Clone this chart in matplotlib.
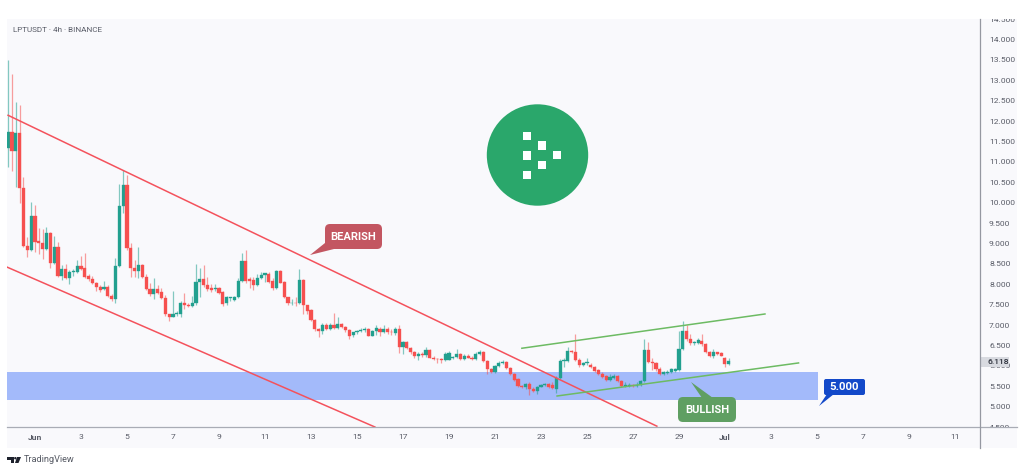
"""LPTUSDT 4h candles with falling channel, rising channel and demand zone."""

import matplotlib
matplotlib.use("Agg")
import matplotlib.pyplot as plt
import numpy as np
from matplotlib.patches import Circle, FancyBboxPatch, Polygon, Rectangle
from matplotlib.transforms import Bbox

plt.rcParams["font.family"] = ["Roboto", "DejaVu Sans"]

# candles, 6 per day, first one sits 7 bars ahead of 1 June
opens = [
    11.34, 11.73, 11.26, 11.70, 10.35, 8.93, 8.84, 9.67, 9.05, 9.00,
    8.86, 9.25, 8.52, 8.91, 8.20, 8.37, 8.15, 8.30, 8.30, 8.45,
    8.39, 8.20, 8.12, 8.03, 7.93, 7.88, 7.93, 7.72, 7.63, 8.44,
    9.91, 10.43, 8.88, 8.39, 8.33, 8.47, 8.18, 7.88, 7.76, 7.88,
    7.80, 7.66, 7.27, 7.19, 7.27, 7.27, 7.53, 7.50, 7.47, 7.53,
    8.05, 8.12, 7.98, 7.90, 7.88, 7.90, 7.80, 7.53, 7.65, 7.62,
    7.68, 8.08, 8.57, 8.12, 8.10, 7.98, 8.15, 8.22, 8.25, 8.07,
    7.90, 8.32, 8.05, 7.68, 7.53, 7.55, 7.53, 8.10, 7.49, 7.36,
    7.12, 6.90, 6.85, 7.00, 6.90, 7.00, 6.93, 7.03, 6.96, 6.87,
    6.75, 6.82, 6.85, 6.87, 6.90, 6.74, 6.86, 6.91, 6.84, 6.91,
    6.84, 6.81, 6.90, 6.45, 6.59, 6.43, 6.34, 6.24, 6.30, 6.26,
    6.39, 6.20, 6.17, 6.16, 6.14, 6.15, 6.18, 6.22, 6.30, 6.16,
    6.24, 6.20, 6.16, 6.29, 6.33, 6.12, 5.91, 5.85, 5.99, 6.07,
    6.10, 5.95, 5.80, 5.67, 5.50, 5.47, 5.55, 5.44, 5.39, 5.49,
    5.53, 5.55, 5.53, 5.44, 5.69, 6.12, 6.12, 6.37, 6.34, 6.14,
    6.02, 6.07, 6.02, 5.96, 5.89, 5.81, 5.75, 5.65, 5.70, 5.75,
    5.62, 5.50, 5.50, 5.52, 5.51, 5.53, 5.63, 6.38, 6.10, 6.06,
    5.92, 5.80, 5.83, 5.85, 5.88, 5.90, 6.42, 6.86, 6.65, 6.55,
    6.55, 6.62, 6.53, 6.34, 6.24, 6.33, 6.32, 6.18, 6.04,
]
closes = [
    11.73, 11.26, 11.70, 10.35, 8.93, 8.83, 9.67, 9.03, 9.00, 8.86,
    9.25, 8.52, 8.91, 8.20, 8.37, 8.15, 8.30, 8.33, 8.45, 8.37,
    8.17, 8.12, 8.03, 7.93, 7.86, 7.93, 7.70, 7.63, 8.44, 9.91,
    10.43, 8.88, 8.39, 8.33, 8.47, 8.18, 7.88, 7.76, 7.88, 7.78,
    7.66, 7.27, 7.19, 7.27, 7.30, 7.53, 7.50, 7.46, 7.53, 8.05,
    8.12, 7.98, 7.88, 7.86, 7.90, 7.78, 7.51, 7.68, 7.68, 7.68,
    8.08, 8.57, 8.08, 8.08, 7.98, 8.15, 8.22, 8.27, 8.05, 7.90,
    8.32, 8.03, 7.68, 7.53, 7.55, 7.53, 8.10, 7.49, 7.34, 7.12,
    6.90, 6.85, 7.00, 6.90, 7.00, 6.93, 7.03, 6.96, 6.87, 6.72,
    6.82, 6.85, 6.87, 6.90, 6.74, 6.86, 6.92, 6.84, 6.91, 6.84,
    6.83, 6.90, 6.45, 6.59, 6.43, 6.33, 6.24, 6.30, 6.26, 6.39,
    6.20, 6.17, 6.16, 6.14, 6.28, 6.32, 6.21, 6.30, 6.16, 6.24,
    6.20, 6.17, 6.29, 6.33, 6.12, 5.91, 5.85, 5.99, 6.07, 6.10,
    5.94, 5.80, 5.65, 5.50, 5.47, 5.55, 5.43, 5.39, 5.49, 5.53,
    5.55, 5.48, 5.45, 5.69, 6.12, 6.14, 6.37, 6.34, 6.14, 6.02,
    6.07, 6.09, 5.98, 5.87, 5.80, 5.73, 5.65, 5.72, 5.75, 5.63,
    5.50, 5.52, 5.52, 5.51, 5.53, 5.63, 6.38, 6.10, 6.06, 5.92,
    5.80, 5.85, 5.85, 5.91, 5.91, 6.42, 6.86, 6.65, 6.55, 6.58,
    6.63, 6.53, 6.33, 6.24, 6.34, 6.30, 6.25, 6.04, 6.12,
]
highs = [
    13.49, 13.15, 12.46, 12.39, 10.62, 9.15, 10.01, 9.94, 9.37, 9.35,
    9.40, 9.28, 9.18, 9.03, 8.47, 8.49, 8.35, 8.38, 8.59, 8.69,
    8.76, 8.26, 8.20, 8.06, 7.98, 8.07, 7.98, 7.76, 8.64, 10.45,
    10.80, 10.67, 9.00, 8.59, 8.91, 8.50, 8.25, 8.03, 8.15, 7.98,
    7.90, 7.73, 7.28, 7.83, 7.35, 7.60, 7.78, 7.53, 7.71, 8.49,
    8.39, 8.47, 8.18, 8.00, 8.00, 7.94, 7.84, 7.71, 7.69, 7.72,
    8.14, 8.76, 8.83, 8.17, 8.18, 8.26, 8.30, 8.28, 8.30, 8.14,
    8.35, 8.35, 8.07, 7.69, 7.63, 7.69, 8.37, 8.12, 7.50, 7.38,
    7.14, 6.92, 7.04, 7.04, 7.04, 7.29, 7.19, 7.05, 6.97, 6.89,
    6.84, 6.88, 6.93, 6.94, 6.92, 6.88, 7.00, 6.96, 7.00, 6.94,
    6.90, 6.94, 7.00, 6.61, 6.60, 6.47, 6.37, 6.34, 6.34, 6.47,
    6.42, 6.24, 6.20, 6.19, 6.34, 6.36, 6.25, 6.40, 6.32, 6.28,
    6.28, 6.24, 6.33, 6.38, 6.37, 6.14, 5.95, 6.03, 6.11, 6.13,
    6.12, 5.97, 5.82, 5.69, 5.53, 5.58, 5.60, 5.47, 5.51, 5.56,
    5.58, 5.58, 5.60, 5.75, 6.16, 6.18, 6.45, 6.39, 6.79, 6.18,
    6.10, 6.18, 6.08, 5.99, 5.92, 5.84, 5.78, 5.80, 5.81, 5.78,
    5.65, 5.61, 5.59, 5.56, 5.61, 5.66, 6.65, 6.59, 6.18, 6.10,
    5.96, 5.88, 5.89, 5.94, 5.95, 6.86, 7.10, 7.00, 6.78, 6.62,
    6.68, 6.78, 6.56, 6.36, 6.40, 6.35, 6.34, 6.22, 6.20,
]
lows = [
    10.87, 10.77, 10.38, 9.99, 8.90, 8.66, 8.81, 8.80, 8.75, 8.61,
    8.83, 8.39, 8.50, 8.17, 8.10, 8.12, 8.00, 8.20, 8.28, 8.34,
    8.14, 8.08, 8.00, 7.83, 7.82, 7.85, 7.68, 7.59, 7.53, 8.42,
    9.74, 8.83, 8.17, 8.17, 8.14, 8.14, 7.85, 7.71, 7.63, 7.75,
    7.63, 7.23, 7.10, 7.19, 7.22, 7.20, 7.40, 7.43, 7.45, 7.49,
    7.68, 7.92, 7.84, 7.81, 7.84, 7.76, 7.46, 7.50, 7.60, 7.58,
    7.65, 8.05, 8.03, 7.90, 7.86, 7.95, 8.12, 8.05, 8.03, 7.87,
    7.88, 8.02, 7.65, 7.49, 7.50, 7.47, 7.51, 7.27, 7.28, 7.09,
    6.86, 6.70, 6.78, 6.87, 6.87, 6.89, 6.89, 6.92, 6.82, 6.65,
    6.71, 6.78, 6.82, 6.84, 6.72, 6.72, 6.75, 6.74, 6.80, 6.78,
    6.75, 6.75, 6.32, 6.30, 6.40, 6.30, 6.20, 6.14, 6.22, 6.22,
    6.18, 6.14, 6.06, 6.06, 6.12, 6.13, 6.16, 6.18, 6.14, 6.14,
    6.18, 6.13, 6.14, 6.26, 6.10, 5.81, 5.83, 5.83, 5.97, 6.05,
    5.92, 5.77, 5.62, 5.47, 5.45, 5.44, 5.28, 5.37, 5.31, 5.47,
    5.51, 5.46, 5.43, 5.34, 5.67, 5.98, 6.10, 6.32, 6.12, 5.98,
    6.00, 6.02, 5.95, 5.85, 5.78, 5.71, 5.63, 5.62, 5.68, 5.61,
    5.48, 5.47, 5.47, 5.48, 5.48, 5.50, 5.61, 6.06, 5.90, 5.88,
    5.77, 5.78, 5.81, 5.83, 5.86, 5.88, 6.38, 6.62, 6.51, 6.52,
    6.53, 6.48, 6.31, 6.21, 6.20, 6.27, 6.23, 5.98, 6.01,
]

# x tick days counted from 1 June
date_ticks = [0, 2, 4, 6, 8, 10, 12, 14, 16, 18, 20, 22, 24, 26, 28, 30, 32, 34, 36, 38, 40]
date_labels = ["Jun", "3", "5", "7", "9", "11", "13", "15", "17", "19", "21", "23",
               "25", "27", "29", "Jul", "3", "5", "7", "9", "11"]
price_ticks = [4.5, 5, 5.5, 6, 6.5, 7, 7.5, 8, 8.5, 9, 9.5, 10, 10.5, 11, 11.5,
               12, 12.5, 13, 13.5, 14, 14.5]

# drawings: (day, price) ends
bear_upper = ([-1.17, 27.04], [12.14, 4.52])
bear_lower = ([-1.22, 14.78], [8.42, 4.5])
bull_upper = ([21.17, 31.74], [6.43, 7.27])
bull_lower = ([22.7, 33.2], [5.26, 6.07])
zone_days = (-1.22, 34.04)
zone_prices = (5.16, 5.84)
last_price = 6.118

GREEN = "#22A08F"
RED = "#F6504F"
TEXT = "#5A5D68"
PANEL = "#F9F9FC"

W, H = 1024, 472
fig = plt.figure(figsize=(W / 100, H / 100), dpi=100, facecolor="white")


def px_rect(left, top, right, bottom):
    """Figure fractions for a box given in image pixels."""
    return [left / W, 1 - bottom / H, (right - left) / W, (bottom - top) / H]


# chart panel behind everything
l, b, w, h = px_rect(7, 19, 1017, 448)
fig.add_artist(Rectangle((l, b), w, h, transform=fig.transFigure, color=PANEL, lw=0, zorder=-1))

ax = fig.add_axes(px_rect(7, 19, 980, 427), facecolor="none")
ax.set_xlim(-1.217, 41.09)
ax.set_ylim(4.5, 14.5)
for side in ["top", "left", "bottom", "right"]:
    ax.spines[side].set_visible(False)

ax.yaxis.tick_right()
ax.set_yticks(price_ticks)
ax.set_yticklabels([f"{p:.3f}" for p in price_ticks])
ax.set_xticks(date_ticks)
ax.set_xticklabels(date_labels)
ax.tick_params(axis="y", length=0, pad=6.5, labelsize=6.1, labelcolor=TEXT)
ax.tick_params(axis="x", length=0, pad=5, labelsize=6.1, labelcolor=TEXT)
for label in ax.get_xticklabels():
    if label.get_text() in ("Jun", "Jul"):
        label.set_fontweight("bold")

# end labels get cut by the scale edges like in TradingView
scale_box = Bbox([[981, H - 427], [1017, H - 19]])
for label in ax.get_yticklabels():
    label.set_clip_box(scale_box)
    label.set_clip_on(True)

ax.add_patch(Rectangle((zone_days[0], zone_prices[0]), zone_days[1] - zone_days[0],
                       zone_prices[1] - zone_prices[0], color="#A3BAFA", lw=0, zorder=1))

# candles
o = np.array(opens)
c = np.array(closes)
days = (np.arange(len(o)) - 7) / 6
colors = [GREEN if close >= op else RED for op, close in zip(o, c)]
ax.vlines(days, lows, highs, colors=colors, linewidth=0.9, alpha=0.55, zorder=2)
ax.bar(days, np.abs(c - o), bottom=np.minimum(o, c), width=0.135, color=colors,
       edgecolor=colors, linewidth=0.25, zorder=3)

for xs, ys in (bear_upper, bear_lower):
    ax.plot(xs, ys, color="#F4525C", linewidth=1.1, zorder=4)
for xs, ys in (bull_upper, bull_lower):
    ax.plot(xs, ys, color="#6DBB63", linewidth=1.1, zorder=4)

# overlay in image pixels for logo, callouts and footer
pix = fig.add_axes([0, 0, 1, 1], facecolor="none")
pix.set_xlim(0, W)
pix.set_ylim(H, 0)
pix.axis("off")

# pane borders, the scale line runs on through the time axis
pix.plot([7, 1017], [427, 427], color="#A9ACB5", linewidth=0.9)
pix.plot([980, 980], [19, 448], color="#9598A1", linewidth=0.9)

pix.text(13, 30, "LPTUSDT · 4h · BINANCE", fontsize=5.9, color=TEXT, va="center")

# current price tag
pix.add_patch(Rectangle((980.5, 357), 28.5, 10, color="#D8DAE0", lw=0))
pix.text(987, 362, f"{last_price:.3f}", fontsize=6.1, color="#2A2E39", va="center",
         fontweight="medium")

# coin logo
pix.add_patch(Circle((537.5, 155), 50.7, color="#2AA76B", lw=0))
for sx, sy in [(526.7, 135.7), (541.7, 145.3), (526.7, 155.3),
               (557, 155), (541.7, 165), (526.7, 174.7)]:
    pix.add_patch(Rectangle((sx - 4.2, sy - 4.2), 8.4, 8.4, color="white", lw=0))


def callout(left, top, right, bottom, tail, label, color, size, radius=5):
    pix.add_patch(Polygon(tail, closed=True, color=color, lw=0))
    pix.add_patch(FancyBboxPatch((left + radius, top + radius), right - left - 2 * radius,
                                 bottom - top - 2 * radius, boxstyle=f"round,pad={radius}",
                                 color=color, lw=0))
    pix.text((left + right) / 2, (top + bottom) / 2 + 0.3, label, color="white", fontsize=size,
             fontweight="bold", ha="center", va="center")


callout(325, 224, 382, 249, [(310, 255), (325, 243), (334, 249)], "BEARISH", "#C35661", 8)
callout(678, 397, 736, 422, [(691, 382), (702, 398), (713, 398)], "BULLISH", "#5F9F62", 8)
callout(824, 379, 865, 395, [(819, 406), (827, 394), (834, 394)], "5.000", "#1349C9", 8.2, radius=2)

# footer mark
pix.add_patch(Polygon([(7, 457), (13.5, 457), (13.5, 463), (10.5, 463), (10.5, 459.5), (7, 459.5)],
                      closed=True, color="#1E222D", lw=0))
pix.add_patch(Circle((15.3, 458.2), 1.2, color="#1E222D", lw=0))
pix.add_patch(Polygon([(17, 457), (21, 457), (18.5, 463), (15, 463)], closed=True,
                      color="#1E222D", lw=0))
pix.text(24, 460, "TradingView", fontsize=6.6, color="#555963", va="center")

fig.savefig("out.png", dpi=100)
